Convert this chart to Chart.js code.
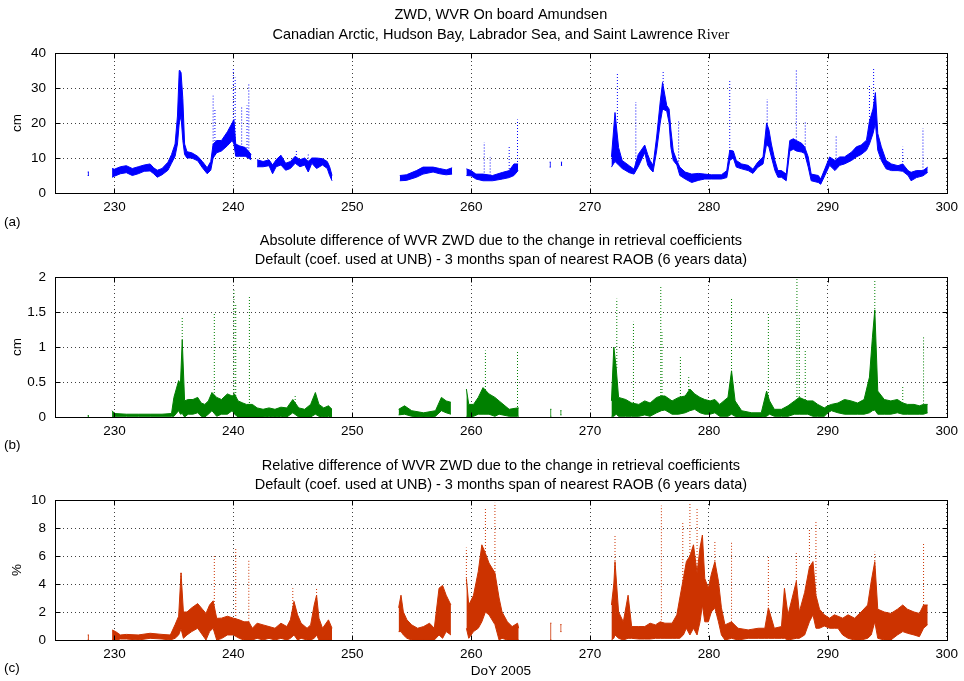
<!DOCTYPE html>
<html>
<head>
<meta charset="utf-8">
<script src="https://cdn.jsdelivr.net/npm/chart.js@4.4.0/dist/chart.umd.min.js"></script>
<style>
  body { margin: 0; background: #fff; }
  #wrap { position: relative; width: 964px; height: 681px; }
  canvas { position: absolute; left: 0; }
</style>
</head>
<body>
<div id="wrap">
  <canvas id="cA" width="964" height="230" style="top:0px"></canvas>
  <canvas id="cB" width="964" height="225" style="top:230px"></canvas>
  <canvas id="cC" width="964" height="226" style="top:455px"></canvas>
</div>
<script>
// ---- panel (a): ZWD, cm  (null = data gap)
const daysA = [227.75,227.85,228.5,229.8,230.0,230.5,231.0,231.5,232.0,232.5,233.0,233.3,233.6,234.0,234.5,234.8,235.1,235.3,235.45,235.6,235.75,235.9,236.1,236.5,237.0,237.4,237.8,238.1,238.3,238.6,239.0,239.5,239.9,240.05,240.2,240.5,241.0,241.5,241.75,242.0,242.5,243.0,243.3,243.6,244.0,244.4,244.8,245.2,245.6,246.0,246.3,246.6,247.0,247.5,247.9,248.1,248.3,251,254.0,254.55,255.4,255.95,256.8,257.35,257.9,258.4,259,259.6,260.0,260.4,261.0,261.8,262.65,263.2,263.6,263.95,265,266.6,266.7,267.1,267.55,267.65,269,271.8,272.1,272.4,272.7,273.3,273.7,274.05,274.6,274.85,275.05,275.3,275.6,275.9,276.1,276.45,276.65,276.8,277.0,277.3,277.55,278.0,278.55,279.1,279.65,280.2,281.05,281.5,281.75,282.05,282.3,282.75,283.3,283.7,284.1,284.55,284.85,285.05,285.25,285.55,285.8,286.1,286.5,286.8,287.1,287.35,287.8,288.05,288.35,288.6,289.2,289.4,289.75,290.15,290.6,291.0,291.4,292.0,292.4,292.8,293.25,293.5,293.8,294.0,294.2,294.5,294.9,295.35,295.9,296.3,296.75,297.0,297.45,298.0,298.4];
const lowA  = [5.0,5.0,null,4.5,4.8,5.5,5.8,5.0,5.5,6.2,6.3,5.5,4.5,5.2,6.5,8.5,10.5,14,20,22,15,11,10,10,9.2,7.2,5.5,6.5,10,11.5,12,13.5,15,14,10.5,10.5,10.5,9.5,null,7.5,7.5,7.8,5.5,7.5,8.0,6.5,7.0,8.5,7.5,8.0,6.0,8.5,7.0,8.0,7.0,5.0,3.5,null,3.5,3.6,4.5,5.4,6.0,5.5,5.2,5.4,null,5.0,4.9,4.0,3.5,3.5,4.0,4.4,5.0,6.4,null,7.4,7.4,null,7.9,7.9,null,7.4,9,8,7,5.8,5.4,7.5,11.5,8,6.9,6,12,20,24,23.4,20,13,9.3,8,5,4,3,3.6,4,4,4,4.4,9.3,10,7.4,6.9,6.4,5.6,7.3,8.3,14,13,10.3,6.4,4.5,4.5,3.5,12,12.5,12,11.7,11.3,7.4,3.5,3,2.5,5,7.9,6.4,7.9,8.3,9.3,10.3,11,12.2,14,17,20,12.2,9.3,6.9,6.4,6.4,6.2,5,3.5,4.4,4.9,5.9];
const highA = [6.0,6.0,null,7.0,6.8,7.5,7.8,7.0,7.5,8.0,8.3,7.2,6.5,7.0,8.8,11,14,22,35,34.5,27,14,11.8,11.5,10.5,9.0,7.2,9.0,14,15,15,17.5,20,21,14,13.5,13,11,null,9.5,9.0,9.5,8.0,9.5,10.8,8.5,9.0,10.5,9.5,10.0,9.0,10.0,10.0,9.8,9.0,7.5,5.0,null,5.0,5.2,6.4,7.4,7.4,7.0,6.6,7.2,null,6.9,6.4,5.4,5.4,5.0,5.9,6.4,8.3,8.3,null,8.8,8.8,null,8.8,8.8,null,10.3,23,13,9.3,7.8,6.8,11,13.7,11,9.3,7.9,16,26,31.6,25,24,18,12,9.3,7.4,6,5.4,5.6,5.4,5.2,5.2,6.4,12.2,12,9.3,8.3,7.9,6.8,8.8,10.3,20,18,14,9.3,6.4,6.4,5.4,15,15.5,15,14.2,13.2,10.3,5.4,5,4,6.9,10.3,9.3,10.3,10.3,11.7,13.2,13.7,15.1,20.5,24,28.7,17,13.2,9.3,8.3,7.8,8.3,6.4,5.9,6.4,6.4,7.4];
const spikeDayA = [235.5,238.3,238.45,240.0,240.15,240.7,241.15,241.3,245.3,246.3,261.1,261.6,263.2,263.9,272.3,273.85,276.15,277.45,281.75,284.9,287.35,288.1,290.7,293.5,293.85,296.3,298.0];
const spikeLoA  = [22,13,14,18,14,13,12,11,10,9,5,5,6,8,20,7,30,9,12,19,15,13,9,20,24,8,6.4];
const spikeHiA  = [35.5,27.8,24,36,33,25,25,31.5,12.3,11,14.5,10.3,13.2,21,34.5,26,35,20.5,32.5,26.8,35.5,20.5,16.6,30.7,35.5,13.2,18.5];

// ---- panel (b): absolute difference, cm
const daysB = [227.75,227.85,228.5,229.8,230.0,231.0,232.0,233.0,234.0,234.8,235.0,235.4,235.55,235.7,235.9,236.2,236.6,237.0,237.3,237.6,237.9,238.2,238.6,239.0,239.5,239.9,240.1,240.4,240.8,241.1,241.6,242.0,242.5,243.0,243.5,244.0,244.5,245.0,245.5,246.0,246.5,246.9,247.2,247.6,248.0,248.3,251,253.9,254.4,255.0,256.0,257.0,257.5,257.9,258.3,259,259.6,259.8,260.2,260.6,261.0,261.5,262.0,262.35,263.2,263.9,264.0,265,266.65,266.75,267.1,267.5,267.6,269,271.8,272.0,272.2,272.4,273.0,273.5,274.1,274.6,275.05,275.6,276.0,276.3,276.9,277.45,278.0,278.4,278.8,279.25,279.65,280.1,280.5,280.9,281.6,281.9,282.2,282.75,283.6,284.4,284.85,285.1,285.5,286.1,286.65,287.2,287.6,288.0,288.3,288.75,289.15,289.7,290.0,290.3,290.85,291.4,291.95,292.5,293.05,293.5,293.75,293.95,294.2,294.75,295.3,295.85,296.3,296.7,297.25,297.7,298.05,298.4];
const lowB  = [0,0,null,0,0.01,0.01,0.01,0.01,0.01,0.01,0.01,0.09,0.04,0.05,0,0.04,0.04,0.06,0.01,0,0.04,0.09,0.01,0.04,0.04,0.09,0.04,0,0,0,0,0,0,0.01,0,0.01,0,0.06,0,0,0,0.04,0.01,0,0.01,0,null,0.03,0.04,0.01,0,0.01,0.09,0.06,0.04,null,0.01,0,0.01,0.04,0.04,0.04,0.01,0.04,0.01,0.01,0.01,null,0.01,0.01,null,0.03,0.03,null,0.01,0.01,0.04,0.01,0.01,0.01,0.01,0.03,0.01,0.06,0.09,0.1,0.04,0.04,0.06,0.09,0.11,0.06,0.04,0.04,0.06,0.01,0.01,0.04,0.01,0,0,0,0.01,0.04,0.01,0.01,0.01,0.04,0.04,0.04,0.04,0.01,0.01,0.01,0.06,0.09,0.06,0.04,0.04,0.04,0.04,0.06,0.09,0.1,0.04,0.04,0.04,0.06,0.04,0.04,0.04,0.04,0.04,0.06];
const highB = [0.02,0.02,null,0.09,0.05,0.04,0.04,0.04,0.04,0.05,0.28,0.52,0.47,1.1,0.23,0.25,0.25,0.28,0.2,0.18,0.23,0.35,0.28,0.25,0.33,0.3,0.33,0.23,0.2,0.18,0.18,0.13,0.11,0.13,0.11,0.14,0.13,0.25,0.13,0.11,0.18,0.35,0.18,0.13,0.16,0.11,null,0.11,0.16,0.09,0.06,0.09,0.28,0.23,0.21,null,0.4,0.18,0.18,0.28,0.42,0.33,0.28,0.23,0.11,0.13,0.13,null,0.11,0.11,null,0.09,0.09,null,0.23,1.0,0.7,0.28,0.25,0.2,0.18,0.23,0.2,0.28,0.3,0.3,0.23,0.28,0.3,0.4,0.33,0.28,0.25,0.23,0.25,0.18,0.28,0.66,0.23,0.09,0.06,0.06,0.37,0.23,0.11,0.11,0.16,0.23,0.28,0.25,0.23,0.23,0.18,0.13,0.16,0.18,0.2,0.25,0.23,0.2,0.25,0.57,1.14,1.53,0.37,0.25,0.23,0.25,0.2,0.18,0.18,0.16,0.18,0.18];
const spikeDayB = [235.7,238.4,240.05,240.2,241.35,245.2,261.2,263.9,272.25,273.65,275.95,276.05,277.6,278.3,281.9,285.0,287.4,287.6,288.1,293.95,296.3,298.05];
const spikeLoB  = [1.1,0.3,0.3,0.3,0.2,0.2,0.3,0.1,0.7,0.2,0.3,0.3,0.2,0.3,0.6,0.3,0.2,0.2,0.2,1.5,0.2,0.18];
const spikeHiB  = [1.42,1.48,1.81,1.6,1.72,0.3,0.95,0.95,1.69,1.36,1.86,1.21,0.88,0.57,1.69,1.48,1.98,1.45,0.95,1.96,0.45,1.14];

// ---- panel (c): relative difference, %
const daysC = [227.75,227.85,228.5,229.8,230.1,230.5,231.0,232.0,233.0,234.0,234.7,235.1,235.4,235.6,235.8,236.1,236.5,237.0,237.4,237.7,238.0,238.3,238.6,239.0,239.5,240.0,240.5,240.9,241.3,241.6,242.0,242.5,243.0,243.5,244.0,244.5,244.8,245.1,245.4,245.7,246.2,246.5,246.8,247.0,247.2,247.5,248.0,248.3,251,253.9,254.1,254.3,254.6,255.0,255.5,256.0,256.5,256.9,257.3,257.6,257.9,258.3,259,259.6,259.8,260.2,260.6,260.9,261.2,261.5,262.0,262.35,262.6,263.05,263.45,263.9,264.0,265,266.65,266.75,267.1,267.5,267.6,269,271.8,272.0,272.1,272.4,272.8,273.2,273.5,274.1,274.6,275.05,275.5,275.9,276.3,276.9,277.3,277.55,277.85,278.1,278.4,278.7,279.0,279.25,279.45,279.65,279.95,280.2,280.5,280.8,281.05,281.35,281.9,282.45,283.3,284.15,284.7,285.0,285.5,286.1,286.35,286.65,287.35,287.6,288.05,288.45,288.75,289.0,289.3,289.7,290.15,290.55,290.85,291.25,291.7,292.25,292.8,293.35,293.65,293.95,294.2,294.75,295.3,295.85,296.3,296.7,297.25,297.7,298.05,298.4];
const lowC  = [0,0,null,0,0,0.07,0.07,0,0.12,0.07,0,0.12,0.36,0.8,0.12,0.36,0.6,0.84,0.36,0,0.6,0.84,0,0.1,0.36,0.36,0.12,0,0,0,0.12,0,0.12,0,0.12,0,0.12,0.36,0,0.12,0,0,0.12,0.36,0,0,0,0,null,0.6,0.6,0.36,0.12,0,0,0,0,0,0.36,0.12,0.6,0.36,null,0.84,0.12,0.6,0.84,1.3,2.0,1.8,1.1,0,0.12,0,0,0,0,null,0,0,null,0.6,0.6,null,0,0.12,0.36,0.12,0,0.12,0.12,0.07,0.07,0.07,0.12,0.12,0.12,0.12,0.12,0.12,0.36,0.84,0.36,0.84,0.36,1.3,2.5,1.3,1.3,2.0,2.3,1.3,0.36,0,0.12,0,0.12,0.12,0.12,0.12,0.12,0.12,0.12,0,0.12,0.12,0.36,1.3,1.8,0.84,0.84,1.0,0.84,0.84,0.84,0.36,0.12,0,0,0.12,0.36,1.3,0.12,0,0,0.36,0.6,0.48,0.36,0.24,0.84,1.1];
const highC = [0.36,0.36,null,0.72,0.6,0.36,0.4,0.36,0.48,0.4,0.36,1.1,1.7,4.8,2.0,2.0,2.3,2.6,2.2,1.9,2.5,2.8,1.55,1.56,1.7,1.56,1.44,1.3,1.3,0.84,1.2,1.08,0.96,0.84,1.2,0.96,1.44,2.76,1.8,1.2,0.84,1.08,2.5,3.2,1.56,0.84,1.44,0.84,null,2.3,3.2,2.0,1.44,1.08,0.84,0.96,1.2,0.84,3.7,3.9,3.2,2.5,null,4.4,2.5,3.2,4.9,6.8,6.2,5.5,4.8,3.0,2.0,1.3,0.96,1.2,0.84,null,1.2,1.2,null,1.1,1.1,null,2.5,4.0,5.6,2.0,1.3,3.2,0.96,0.96,0.96,1.2,1.08,1.3,1.2,1.2,1.8,3.0,4.4,5.6,6.0,6.8,4.8,6.6,7.5,4.4,3.7,4.7,5.6,4.2,2.3,1.08,1.3,0.84,0.72,0.84,0.84,2.3,0.84,0.96,3.7,1.8,4.2,2.0,3.4,5.2,5.6,3.2,2.2,1.8,1.56,1.8,1.7,1.56,1.8,1.56,2.0,2.5,4.2,5.6,2.2,2.0,1.9,2.2,2.5,2.2,2.0,1.9,2.5,2.5];
const spikeDayC = [235.6,238.4,240.2,241.3,245.0,247.0,259.6,261.2,262.0,272.1,276.0,277.8,278.4,279.0,280.5,281.9,285.0,287.35,288.45,289.0,293.95,298.05];
const spikeLoC  = [3.0,2.5,1.5,1.3,1.5,2.5,4.0,5.0,4.0,5.0,1.2,4.0,6.0,5.0,5.0,1.3,2.0,4.0,5.0,3.0,5.0,2.5];
const spikeHiC  = [4.9,6.1,6.6,5.75,3.7,3.7,6.6,9.5,9.8,7.5,9.6,8.5,9.8,9.5,7.0,7.0,6.0,6.2,8.0,8.5,6.3,7.0];

const FONT = '"Liberation Sans", Arial, sans-serif';
const TITLE_FONT = '14.5px ' + FONT;
const LABEL_FONT = '13.5px ' + FONT;

function points(days, ys) {
  return days.map((d, i) => ({ x: d, y: ys[i] }));
}

function spikePoints(days, lo, hi) {
  const out = [];
  days.forEach((d, i) => {
    out.push({ x: d, y: lo[i] }, { x: d, y: hi[i] }, { x: d, y: null });
  });
  return out;
}

// box, inside ticks and all the text that matlab puts round the axes
function framePlugin(cfg) {
  return {
    id: 'frame',
    afterDraw(chart) {
      const { ctx, chartArea: a, scales } = chart;
      const L = Math.round(a.left) + 0.5, R = Math.round(a.right) + 0.5;
      const T = Math.round(a.top) + 0.5, B = Math.round(a.bottom) + 0.5;
      ctx.save();
      ctx.strokeStyle = '#000';
      ctx.lineWidth = 1;
      ctx.setLineDash([]);
      ctx.strokeRect(L, T, R - L, B - T);
      ctx.beginPath();
      scales.x.ticks.forEach(t => {
        const px = Math.round(scales.x.getPixelForValue(t.value)) + 0.5;
        ctx.moveTo(px, B); ctx.lineTo(px, B - 5);
        ctx.moveTo(px, T); ctx.lineTo(px, T + 5);
      });
      scales.y.ticks.forEach(t => {
        const py = Math.round(scales.y.getPixelForValue(t.value)) + 0.5;
        ctx.moveTo(L, py); ctx.lineTo(L + 5, py);
        ctx.moveTo(R, py); ctx.lineTo(R - 5, py);
      });
      ctx.stroke();

      ctx.fillStyle = '#000';
      ctx.textBaseline = 'middle';
      const cx = (a.left + a.right) / 2;
      const fonts = [TITLE_FONT, '14.5px "Liberation Serif", "Times New Roman", serif'];
      cfg.titles.forEach((line, i) => {
        const parts = Array.isArray(line) ? line : [line];
        let w = 0;
        parts.forEach((p, j) => { ctx.font = fonts[j % 2]; w += ctx.measureText(p).width; });
        let x = cx - w / 2;
        ctx.textAlign = 'left';
        parts.forEach((p, j) => {
          ctx.font = fonts[j % 2];
          ctx.fillText(p, x, cfg.titleY[i]);
          x += ctx.measureText(p).width;
        });
      });
      ctx.font = LABEL_FONT;
      ctx.textAlign = 'left';
      ctx.fillText(cfg.tag, 4, cfg.tagY);
      if (cfg.xlabel) {
        ctx.textAlign = 'center';
        ctx.fillText(cfg.xlabel, cx, cfg.xlabelY);
      }
      ctx.translate(17, (a.top + a.bottom) / 2);
      ctx.rotate(-Math.PI / 2);
      ctx.textAlign = 'center';
      ctx.fillText(cfg.ylabel, 0, 0);
      ctx.restore();
    }
  };
}

function makePanel(id, p) {
  const gridStyle = { color: 'rgba(0,0,0,0.75)', drawTicks: false };
  const borderStyle = { display: false, dash: [1, 3] };
  return new Chart(document.getElementById(id), {
    type: 'line',
    data: {
      datasets: [
        {
          data: spikePoints(p.spikeDays, p.spikeLo, p.spikeHi),
          borderColor: p.color, borderWidth: 1, borderDash: [1, 2],
          pointRadius: 0, fill: false, spanGaps: false
        },
        {
          data: points(p.days, p.lo),
          borderColor: p.color, borderWidth: 1,
          pointRadius: 0, fill: false, spanGaps: false, tension: 0
        },
        {
          data: points(p.days, p.hi),
          borderColor: p.color, backgroundColor: p.color, borderWidth: 1,
          pointRadius: 0, fill: '-1', spanGaps: false, tension: 0
        }
      ]
    },
    options: {
      responsive: false,
      animation: false,
      events: [],
      layout: { padding: { top: p.padTop, right: 16, left: 0, bottom: 0 } },
      plugins: { legend: { display: false }, tooltip: { enabled: false }, title: { display: false } },
      scales: {
        x: {
          type: 'linear', min: 225, max: 300,
          grid: gridStyle, border: borderStyle,
          ticks: { stepSize: 10, padding: 6, color: '#000', font: { family: FONT, size: 13.5 },
                   callback: v => String(v) },
          afterBuildTicks: s => { s.ticks = s.ticks.filter(t => t.value % 10 === 0); },
          afterFit: s => { s.height = p.xAxisH; }
        },
        y: {
          min: 0, max: p.yMax,
          grid: gridStyle, border: borderStyle,
          ticks: { stepSize: p.yStep, padding: 9, color: '#000', font: { family: FONT, size: 13.5 },
                   callback: v => String(v) },
          afterFit: s => { s.width = 55; }
        }
      }
    },
    plugins: [framePlugin(p.frame)]
  });
}

makePanel('cA', {
  days: daysA, lo: lowA, hi: highA,
  spikeDays: spikeDayA, spikeLo: spikeLoA, spikeHi: spikeHiA,
  color: '#0000ff', yMax: 40, yStep: 10, padTop: 53, xAxisH: 37,
  frame: {
    titles: ['ZWD, WVR On board Amundsen',
             ['Canadian Arctic, Hudson Bay, Labrador Sea, and Saint Lawrence ', 'River']],
    titleY: [15, 35], tag: '(a)', tagY: 222, ylabel: 'cm'
  }
});

makePanel('cB', {
  days: daysB, lo: lowB, hi: highB,
  spikeDays: spikeDayB, spikeLo: spikeLoB, spikeHi: spikeHiB,
  color: '#008000', yMax: 2, yStep: 0.5, padTop: 47, xAxisH: 38,
  frame: {
    titles: ['Absolute difference of WVR ZWD due to the change in retrieval coefficients',
             'Default (coef. used at UNB) - 3 months span of nearest RAOB (6 years data)'],
    titleY: [11, 30], tag: '(b)', tagY: 215, ylabel: 'cm'
  }
});

makePanel('cC', {
  days: daysC, lo: lowC, hi: highC,
  spikeDays: spikeDayC, spikeLo: spikeLoC, spikeHi: spikeHiC,
  color: '#cc3300', yMax: 10, yStep: 2, padTop: 45, xAxisH: 41,
  frame: {
    titles: ['Relative difference of WVR ZWD due to the change in retrieval coefficients',
             'Default (coef. used at UNB) - 3 months span of nearest RAOB (6 years data)'],
    titleY: [11, 30], tag: '(c)', tagY: 213, ylabel: '%',
    xlabel: 'DoY 2005', xlabelY: 216
  }
});
</script>
</body>
</html>
